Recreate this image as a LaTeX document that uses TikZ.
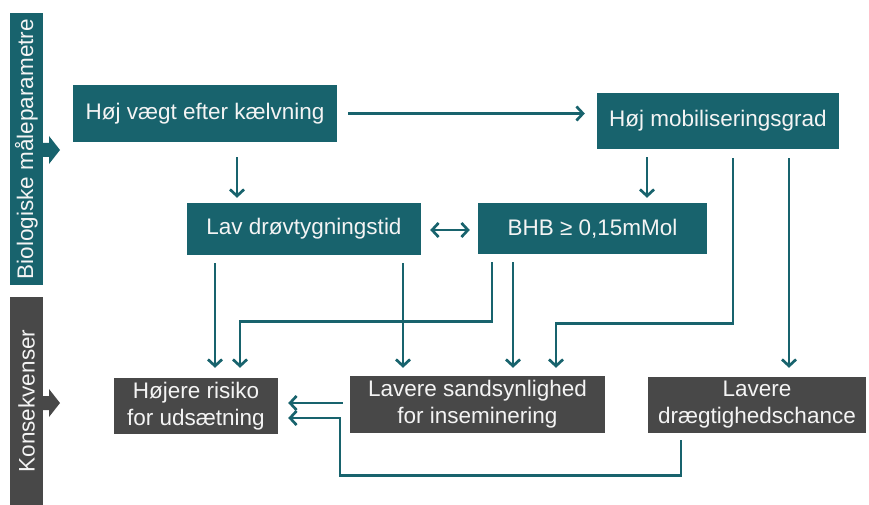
\documentclass[tikz,border=0pt]{standalone}
\usepackage{fontspec}
\setmainfont{Liberation Sans}
\usetikzlibrary{arrows.meta}
\definecolor{teal1}{HTML}{18636D}
\definecolor{grey1}{HTML}{484848}
\definecolor{txt1}{HTML}{F4F4F4}
\begin{document}
\begin{tikzpicture}[x=1pt,y=-1pt,
  boxbase/.style={text=txt1, inner sep=0pt, align=center, font=\fontsize{22.5}{27}\selectfont},
  tbox/.style={boxbase, fill=teal1},
  gbox/.style={boxbase, fill=grey1},
  arr/.style={draw=teal1, line width=2.7pt, -{Straight Barb[length=6.5pt,width=14pt]}},
  darr/.style={draw=teal1, line width=2.7pt, {Straight Barb[length=6.5pt,width=14pt]}-{Straight Barb[length=6.5pt,width=14pt]}},
  sidebar/.style={boxbase, rotate=90, minimum height=33pt}
]
\useasboundingbox (0,0) rectangle (869,505);

% side bars
\node[sidebar, fill=teal1, minimum width=272pt] (bio) at (26.5,149) {Biologiske måleparametre};
\fill[teal1] (43,143) -- (49,143) -- (49,136) -- (60,150) -- (49,164) -- (49,157) -- (43,157) -- cycle;
\node[sidebar, fill=grey1, minimum width=208pt] (kons) at (26.5,401) {Konsekvenser};
\fill[grey1] (43,396) -- (49,396) -- (49,389) -- (60,403) -- (49,417) -- (49,410) -- (43,410) -- cycle;

% boxes
\node[tbox, minimum width=264pt, minimum height=57pt] (hv) at (205,113.5) {Høj vægt efter kælvning};
\node[tbox, minimum width=242pt, minimum height=56pt] (mob) at (718,121) {Høj mobiliseringsgrad};
\node[tbox, minimum width=234pt, minimum height=52pt] (lav) at (304,229) {Lav drøvtygningstid};
\node[tbox, minimum width=229pt, minimum height=51pt] (bhb) at (592.5,228.5) {BHB ≥ 0,15mMol};
\node[gbox, minimum width=164pt, minimum height=56pt] (hr) at (196,406) {Højere risiko\\for udsætning};
\node[gbox, minimum width=255pt, minimum height=57pt] (ls) at (477.5,404.5) {Lavere sandsynlighed\\for inseminering};
\node[gbox, minimum width=218pt, minimum height=56pt] (ld) at (757,405) {Lavere\\drægtighedschance};

% connectors
\draw[arr, shorten <=15pt, shorten >=5pt] ([xshift=32pt]hv.south) -- ([xshift=32pt]hv.south |- lav.north);
\draw[arr, shorten <=11pt, shorten >=12pt] (hv.east) -- (hv.east -| mob.west);
\draw[arr, shorten <=8pt, shorten >=5pt] ([xshift=-71pt]mob.south) -- ([xshift=-71pt]mob.south |- bhb.north);
\draw[darr, shorten <=9pt, shorten >=8pt] ([yshift=-1pt]lav.east) -- ([yshift=-1pt]lav.east -| bhb.west);

\draw[arr, shorten <=8pt, shorten >=10pt] ([xshift=-89pt]lav.south) -- ([xshift=-89pt]lav.south |- hr.north);
\draw[arr, shorten <=8pt, shorten >=8pt] ([xshift=99pt]lav.south) -- ([xshift=99pt]lav.south |- ls.north);
\draw[arr, shorten <=8pt, shorten >=10pt] ([xshift=-100.5pt]bhb.south) -- ++(0,67) -| ([xshift=44pt]hr.north);
\draw[arr, shorten <=8pt, shorten >=8pt] ([xshift=-79.5pt]bhb.south) -- ([xshift=-79.5pt]bhb.south |- ls.north);
\draw[arr, shorten <=9pt, shorten >=8pt] ([xshift=15pt]mob.south) -- ++(0,174) -| ([xshift=78.5pt]ls.north);
\draw[arr, shorten <=9pt, shorten >=9pt] ([xshift=71pt]mob.south) -- ([xshift=71pt]mob.south |- ld.north);

\draw[arr, shorten <=7pt, shorten >=10pt] ([yshift=1.5pt]ls.west) -- ([yshift=1.5pt]ls.west -| hr.east);
\draw[arr, shorten <=7pt, shorten >=10pt] ([xshift=-76pt]ld.south) -- ++(0,42) -| (340,418) -- ([yshift=-12pt]hr.east);
\end{tikzpicture}
\end{document}
